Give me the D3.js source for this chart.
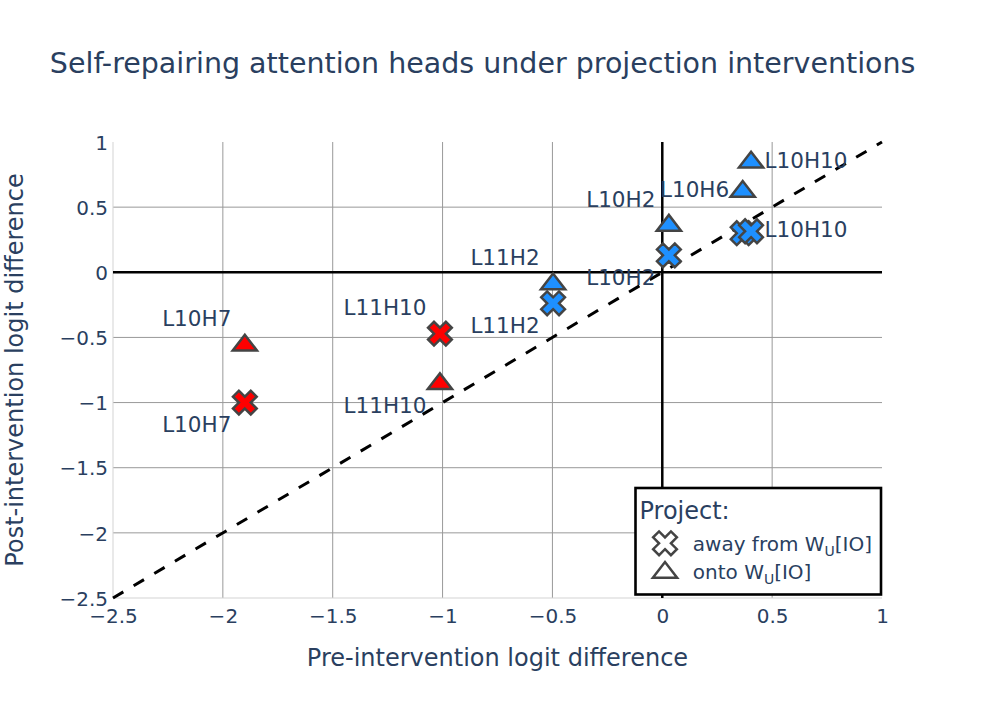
<!DOCTYPE html>
<html><head><meta charset="utf-8">
<script src="https://cdn.jsdelivr.net/npm/d3@7"></script>
<style>
body{margin:0;background:#fff;}
text{font-family:"DejaVu Sans",Verdana,sans-serif;}
</style>
</head><body>
<svg id="chart" width="997" height="712"></svg>
<script>
// ---- data ----
const heads      = ["L10H7", "L11H10", "L11H2", "L10H2", "L10H6", "L10H10"];
const headColor  = ["red", "red", "dodgerblue", "dodgerblue", "dodgerblue", "dodgerblue"];
const preDiff    = [-1.9, -1.012, -0.497, 0.03, 0.366, 0.404];
const postAway   = [-1.0, -0.471, -0.238, 0.13, 0.30, 0.315];
const postOnto   = [-0.56, -0.855, -0.09, 0.36, 0.62, 0.845];
const awayTextPos = ["bottom left", "top left", "bottom left", "bottom left", "", "middle right"];
const ontoTextPos = ["top left", "bottom left", "top left", "top left", "middle left", "middle right"];
const traceNames = ["away from W", "onto W"];
const xTicks = [-2.5, -2, -1.5, -1, -0.5, 0, 0.5, 1];
const yTicks = [-2.5, -2, -1.5, -1, -0.5, 0, 0.5, 1];
const refLine = [-2.5, 1];

// ---- layout ----
const W = 997, H = 712;
const L = 113, R = 882, T = 142, B = 598;
const txt = "#2a3f5f";
const svg = d3.select("#chart");
svg.append("rect").attr("width", W).attr("height", H).attr("fill", "#fff");

const x = d3.scaleLinear().domain([-2.5, 1]).range([L, R]);
const y = d3.scaleLinear().domain([-2.5, 1]).range([B, T]);
const fmt = d3.format("~g");

// grid
const g = svg.append("g");
g.selectAll(".vg").data(xTicks.filter(v => v !== 0 && v > -2.5 && v < 1)).join("line")
  .attr("x1", d => x(d)).attr("x2", d => x(d)).attr("y1", T).attr("y2", B)
  .attr("stroke", "#999").attr("stroke-width", 1);
g.selectAll(".hg").data(yTicks.filter(v => v !== 0 && v > -2.5 && v < 1)).join("line")
  .attr("x1", L).attr("x2", R).attr("y1", d => y(d)).attr("y2", d => y(d))
  .attr("stroke", "#999").attr("stroke-width", 1);

// axis lines
g.append("line").attr("x1", L).attr("x2", L).attr("y1", T).attr("y2", B).attr("stroke", "#d3d3d3").attr("stroke-width", 1);
g.append("line").attr("x1", L).attr("x2", R).attr("y1", B).attr("y2", B).attr("stroke", "#d3d3d3").attr("stroke-width", 1);

// zero lines
g.append("line").attr("x1", x(0)).attr("x2", x(0)).attr("y1", T).attr("y2", B).attr("stroke", "#000").attr("stroke-width", 2.5);
g.append("line").attr("x1", L).attr("x2", R).attr("y1", y(0)).attr("y2", y(0)).attr("stroke", "#000").attr("stroke-width", 2.5);

// tick labels via axes
const xAx = svg.append("g").attr("transform", `translate(0,${B})`)
  .call(d3.axisBottom(x).tickValues(xTicks).tickFormat(fmt).tickSize(0).tickPadding(11));
xAx.select(".domain").remove();
xAx.selectAll("text").attr("fill", txt).style("font-size", "20px").style("font-family", "DejaVu Sans");

const yAx = svg.append("g").attr("transform", `translate(${L},0)`)
  .call(d3.axisLeft(y).tickValues(yTicks).tickFormat(fmt).tickSize(0).tickPadding(5));
yAx.select(".domain").remove();
yAx.selectAll("text").attr("fill", txt).attr("dy", "0.36em").style("font-size", "20px").style("font-family", "DejaVu Sans");

// reference dashed line y = x
svg.append("line")
  .attr("x1", x(refLine[0])).attr("y1", y(refLine[0]))
  .attr("x2", x(refLine[1])).attr("y2", y(refLine[1]))
  .attr("stroke", "#000").attr("stroke-width", 3).attr("stroke-dasharray", "12,12");

// marker shapes (plotly-style)
function xSym(r) {
  const a = +(r * 0.8 / Math.SQRT2).toFixed(2);
  const ne = `l${a},${a}`, se = `l${a},-${a}`, sw = `l-${a},-${a}`, nw = `l-${a},${a}`;
  return `M0,${a}` + ne + se + sw + se + sw + nw + sw + nw + ne + nw + ne + "Z";
}
function triSym(r) {
  const rt = +(r * 2 / Math.sqrt(3)).toFixed(2), r2 = +(r / 2).toFixed(2);
  return `M-${rt},${r2}H${rt}L0,-${r}Z`;
}
const mr = 10.5;

const awayData = heads.map((h, i) => ({ h, px: preDiff[i], py: postAway[i], c: headColor[i], pos: awayTextPos[i] }));
const ontoData = heads.map((h, i) => ({ h, px: preDiff[i], py: postOnto[i], c: headColor[i], pos: ontoTextPos[i] }));

function drawTrace(data, sym) {
  const gg = svg.append("g");
  gg.selectAll("path").data(data).join("path")
    .attr("d", sym(mr))
    .attr("transform", d => `translate(${x(d.px)},${y(d.py)})`)
    .attr("fill", d => d.c).attr("stroke", "#444").attr("stroke-width", 2.5);
  return gg;
}
function drawLabels(data) {
  const fs = 21.5, off = 13.5;
  svg.append("g").selectAll("text").data(data.filter(d => d.pos)).join("text")
    .attr("x", d => x(d.px) + (d.pos.includes("left") ? -off : d.pos.includes("right") ? off : 0))
    .attr("y", d => {
      const base = y(d.py);
      if (d.pos.includes("top")) return base - 0.25 * fs - off;
      if (d.pos.includes("bottom")) return base + 0.75 * fs + off;
      return base + 0.25 * fs;
    })
    .attr("text-anchor", d => d.pos.includes("left") ? "end" : d.pos.includes("right") ? "start" : "middle")
    .attr("fill", txt).style("font-size", fs + "px")
    .text(d => d.h);
}
drawTrace(awayData, xSym);
drawTrace(ontoData, triSym);
drawLabels(awayData);
drawLabels(ontoData);

// title
svg.append("text").attr("x", 49.85).attr("y", 72.7).attr("fill", txt)
  .style("font-size", "28.5px").text("Self-repairing attention heads under projection interventions");

// axis titles
svg.append("text").attr("x", (L + R) / 2).attr("y", 665.7).attr("text-anchor", "middle")
  .attr("fill", txt).style("font-size", "24px").text("Pre-intervention logit difference");
svg.append("text").attr("transform", `translate(22.5,${(T + B) / 2}) rotate(-90)`).attr("text-anchor", "middle")
  .attr("fill", txt).style("font-size", "24px").text("Post-intervention logit difference");

// legend
const lg = svg.append("g");
lg.append("rect").attr("x", 635.5).attr("y", 488).attr("width", 245.5).attr("height", 106.5)
  .attr("fill", "#fff").attr("stroke", "#000").attr("stroke-width", 2.6);
lg.append("text").attr("x", 639.5).attr("y", 519.3).attr("fill", txt).style("font-size", "24px").text("Project:");
const legSyms = [xSym, triSym];
const legBase = [550.7, 579.3];
traceNames.forEach((nm, i) => {
  lg.append("path").attr("d", legSyms[i](mr))
    .attr("transform", `translate(665,${legBase[i] - (i === 0 ? 7.4 : 6.8)})`)
    .attr("fill", "#fff").attr("stroke", "#444").attr("stroke-width", 2.5);
  const t = lg.append("text").attr("x", 692.8).attr("y", legBase[i]).attr("fill", txt).style("font-size", "20px");
  t.append("tspan").text(nm);
  t.append("tspan").attr("dy", 5).style("font-size", "14px").text("U");
  t.append("tspan").attr("dy", -5).text("[IO]");
});
</script>
</body></html>
